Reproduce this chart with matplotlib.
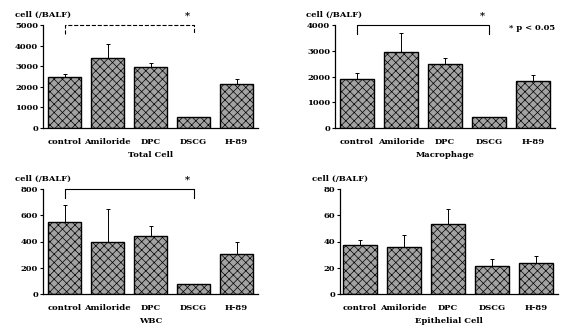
import matplotlib
matplotlib.use("Agg")
import matplotlib.pyplot as plt
import numpy as np

categories = ["control", "Amiloride", "DPC", "DSCG", "H-89"]

total_vals = [2470, 3400, 2960, 530, 2130]
total_err = [150, 700, 200, 0, 250]

macro_vals = [1900, 2950, 2480, 430, 1830]
macro_err = [230, 750, 220, 0, 220]

wbc_vals = [550, 400, 445, 75, 305]
wbc_err = [125, 245, 70, 0, 90]

epi_vals = [37, 36, 53, 21, 24]
epi_err = [4, 9, 12, 6, 5]

titles = ["Total Cell", "Macrophage", "WBC", "Epithelial Cell"]
ylabel = "cell (/BALF)"
yticks_list = [[0, 1000, 2000, 3000, 4000, 5000],
               [0, 1000, 2000, 3000, 4000],
               [0, 200, 400, 600, 800],
               [0, 20, 40, 60, 80]]

plt.rcParams['font.family'] = ['DejaVu Serif']
plt.rcParams['font.weight'] = 'bold'
plt.rcParams['hatch.color'] = '#3a3a3a'
plt.rcParams['hatch.linewidth'] = 0.5

W, H = 564, 333
fig = plt.figure(figsize=(W / 100, H / 100), dpi=100)
fig.patch.set_facecolor('white')

# (left px, right px, top px, bottom px, xlim-left)
boxes = [(43, 258, 25, 128, -0.5),
         (335, 555, 25, 128, -0.5),
         (43, 258, 189, 294, -0.5),
         (340, 558, 189, 294, -0.45)]
data = [(total_vals, total_err), (macro_vals, macro_err),
        (wbc_vals, wbc_err), (epi_vals, epi_err)]
fs = 6

axes = []
for i, ((l, r, t, b, xl), (vals, errs)) in enumerate(zip(boxes, data)):
    ax = fig.add_axes([l / W, 1 - b / H, (r - l) / W, (b - t) / H])
    axes.append(ax)
    x = np.arange(len(categories))
    ax.bar(x, vals, width=0.76, color='#a3a3a3', edgecolor='black',
           linewidth=1.0, hatch='xxxx', zorder=2)
    for xi, v, e in zip(x, vals, errs):
        if e > 0:
            ax.errorbar(xi, v, yerr=[[0], [e]], fmt='none', ecolor='black',
                        elinewidth=0.7, capsize=1.5, capthick=0.7, zorder=3)
    yt = yticks_list[i]
    ax.set_ylim(0, yt[-1])
    ax.set_xlim(xl, 4.5)
    ax.set_yticks(yt)
    ax.set_yticklabels([str(v) for v in yt], fontsize=fs, fontweight='bold')
    ax.set_xticks(x)
    ax.set_xticklabels(categories, fontsize=fs, fontweight='bold')
    ax.tick_params(axis='x', length=0, pad=7)
    ax.tick_params(axis='y', length=2, width=0.8, pad=1.5)
    for s in ['top', 'right']:
        ax.spines[s].set_visible(False)
    ax.spines['left'].set_linewidth(0.9)
    ax.spines['bottom'].set_linewidth(0.9)
    ax.text(0.5, -0.22, titles[i], transform=ax.transAxes, ha='center',
            va='top', fontsize=fs, fontweight='bold')
    ax.text(-0.13, 1.06, ylabel, transform=ax.transAxes, ha='left',
            va='bottom', fontsize=fs, fontweight='bold')

# significance brackets (control vs DSCG)
bracket_axes = [(0, '--'), (1, '-'), (2, '-')]
for idx, ls in bracket_axes:
    ax = axes[idx]
    top = yticks_list[idx][-1]
    y0 = top * 0.91
    ax.plot([0, 0, 3, 3], [y0, top, top, y0], color='black', lw=0.8,
            ls=ls, clip_on=False, zorder=4)
    ax.text(3.0 - 0.15, top * 1.04, "*", ha='center', va='bottom',
            fontsize=fs + 1, fontweight='bold', clip_on=False)

axes[1].text(3.45, 3900, "* p < 0.05", ha='left', va='center',
             fontsize=fs, fontweight='bold')

fig.savefig("out.png", dpi=100, facecolor='white')
